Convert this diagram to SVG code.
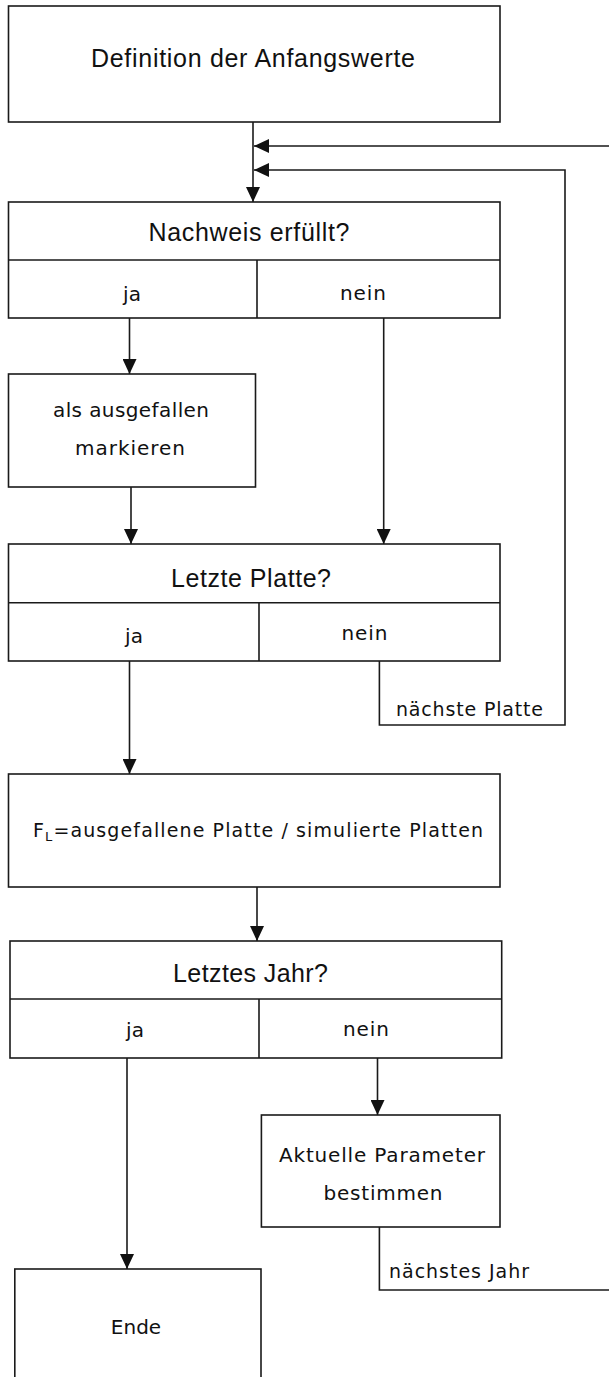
<svg xmlns="http://www.w3.org/2000/svg" width="609" height="1377" viewBox="0 0 609 1377">
<defs>
<marker id="ah" markerUnits="userSpaceOnUse" markerWidth="15" markerHeight="14" refX="15" refY="7" orient="auto">
<path d="M0,0 L15,7 L0,14 z" fill="#111"/>
</marker>
<style>
.box{fill:#fff;stroke:#1a1a1a;stroke-width:1.6}
.div{fill:none;stroke:#1a1a1a;stroke-width:1.6}
.con{fill:none;stroke:#1a1a1a;stroke-width:1.6}
.arr{marker-end:url(#ah)}
.h{font-family:"Liberation Sans",Arial,sans-serif;font-size:25px;fill:#111;text-anchor:middle}
.t{font-family:"DejaVu Sans",Verdana,sans-serif;font-size:20px;fill:#111;text-anchor:middle}
.s{font-family:"DejaVu Sans",Verdana,sans-serif;font-size:19px;fill:#111}
</style>
</defs>
<g id="connectors">
<path class="con arr" d="M253,122 V202"/>
<path class="con arr" d="M379.4,1227 V1290 H612 V146 H254"/>
<path class="con arr" d="M379.4,661 V725 H565 V170 H254"/>
<path class="con arr" d="M129.5,318 V374"/>
<path class="con arr" d="M383.7,318 V544"/>
<path class="con arr" d="M131,487 V544"/>
<path class="con arr" d="M129.5,661 V774"/>
<path class="con arr" d="M257,887 V941"/>
<path class="con arr" d="M127,1058 V1269"/>
<path class="con arr" d="M377.5,1058 V1115"/>
</g>
<g id="n1">
<rect class="box" x="8.5" y="6" width="491.5" height="116"/>
<text class="h" x="253" y="67" textLength="324" lengthAdjust="spacing">Definition der Anfangswerte</text>
</g>
<g id="n2">
<rect class="box" x="8.5" y="202" width="491.5" height="116"/>
<path class="div" d="M8.5,260 H500 M257,260 V318"/>
<text class="h" x="249" y="241" textLength="201" lengthAdjust="spacing">Nachweis erfüllt?</text>
<text class="t" x="132" y="301">ja</text>
<text class="t" x="363" y="300" textLength="46" lengthAdjust="spacing">nein</text>
</g>
<g id="n3">
<rect class="box" x="8.5" y="374" width="247" height="113"/>
<text class="t" x="131" y="417" textLength="156" lengthAdjust="spacing">als ausgefallen</text>
<text class="t" x="130" y="455" textLength="110" lengthAdjust="spacing">markieren</text>
</g>
<g id="n4">
<rect class="box" x="8.5" y="544" width="491.5" height="117"/>
<path class="div" d="M8.5,602.7 H500 M259,602.7 V661"/>
<text class="h" x="251" y="586.5" textLength="160" lengthAdjust="spacing">Letzte Platte?</text>
<text class="t" x="134" y="643">ja</text>
<text class="t" x="364.5" y="640" textLength="46" lengthAdjust="spacing">nein</text>
</g>
<g id="l1">
<text class="s" x="396" y="716" textLength="147" lengthAdjust="spacing">nächste Platte</text>
</g>
<g id="n5">
<rect class="box" x="8.5" y="774" width="491.5" height="113"/>
<text class="t" x="33" y="836.5" style="text-anchor:start;font-size:19px" textLength="450" lengthAdjust="spacing">F<tspan font-size="13" dy="4">L</tspan><tspan dy="-4">=ausgefallene Platte / simulierte Platten</tspan></text>
</g>
<g id="n6">
<rect class="box" x="10" y="941" width="491.7" height="117"/>
<path class="div" d="M10,999 H501.7 M259,999 V1058"/>
<text class="h" x="250.5" y="981.5" textLength="155" lengthAdjust="spacing">Letztes Jahr?</text>
<text class="t" x="135" y="1036.5">ja</text>
<text class="t" x="366" y="1036" textLength="46" lengthAdjust="spacing">nein</text>
</g>
<g id="n7">
<rect class="box" x="261.4" y="1115" width="238.6" height="112"/>
<text class="t" x="382" y="1162" textLength="206" lengthAdjust="spacing">Aktuelle Parameter</text>
<text class="t" x="383" y="1200" textLength="119" lengthAdjust="spacing">bestimmen</text>
</g>
<g id="l2">
<text class="s" x="389" y="1278" textLength="140" lengthAdjust="spacing">nächstes Jahr</text>
</g>
<g id="n8">
<rect class="box" x="14.8" y="1269" width="246.2" height="130"/>
<text class="t" x="136" y="1334">Ende</text>
</g>
</svg>
